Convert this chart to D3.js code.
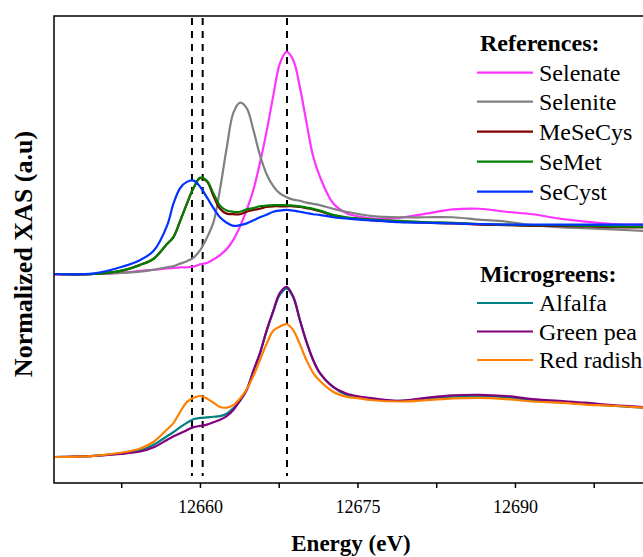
<!DOCTYPE html>
<html>
<head>
<meta charset="utf-8">
<script src="https://cdn.jsdelivr.net/npm/d3@7"></script>
<style>
  body { margin: 0; background: #fff; }
  svg text { font-family: "Liberation Serif", "Times New Roman", serif; fill: #000; }
</style>
</head>
<body>
<div id="chart"></div>
<script>
// energy grid (eV), shared by every spectrum
var energy = [12646.10, 12649.90, 12652.43, 12654.32, 12655.59, 12656.86, 12657.49, 12658.12, 12658.75, 12659.39,
  12660.02, 12660.65, 12661.29, 12661.91, 12662.55, 12663.18, 12663.82, 12664.45, 12665.09, 12665.71,
  12666.34, 12666.98, 12667.61, 12668.25, 12668.88, 12669.51, 12670.14, 12670.78, 12671.41, 12672.68,
  12673.94, 12675.21, 12676.48, 12679.00, 12681.53, 12684.07, 12686.60, 12689.13, 12691.67, 12694.19,
  12696.72, 12699.26, 12703.06];

// reference compounds (normalized, stacked with an offset)
var selenate = [-0.01, 0.00, 0.02, 0.05, 0.07, 0.09, 0.10, 0.11, 0.11, 0.12,
  0.16, 0.18, 0.24, 0.31, 0.41, 0.56, 0.78, 1.05, 1.38, 1.82,
  2.33, 2.92, 3.45, 3.64, 3.51, 3.07, 2.49, 1.93, 1.60, 1.16,
  1.00, 0.94, 0.91, 0.92, 0.99, 1.06, 1.07, 1.02, 0.98, 0.91,
  0.86, 0.82, 0.81];
var selenite = [0.00, 0.00, 0.02, 0.04, 0.07, 0.11, 0.13, 0.17, 0.21, 0.27,
  0.39, 0.59, 0.85, 1.39, 2.07, 2.64, 2.81, 2.72, 2.36, 1.95,
  1.64, 1.44, 1.32, 1.26, 1.22, 1.20, 1.17, 1.15, 1.13, 1.07,
  1.02, 0.98, 0.95, 0.93, 0.93, 0.93, 0.89, 0.86, 0.80, 0.77,
  0.75, 0.73, 0.70];
var meSeCys = [0.00, 0.00, 0.05, 0.15, 0.25, 0.49, 0.61, 0.87, 1.15, 1.41,
  1.57, 1.52, 1.28, 1.07, 0.99, 0.98, 0.98, 1.02, 1.05, 1.07,
  1.10, 1.11, 1.11, 1.11, 1.11, 1.10, 1.08, 1.06, 1.03, 0.96,
  0.92, 0.90, 0.88, 0.86, 0.84, 0.83, 0.81, 0.80, 0.79, 0.79,
  0.78, 0.77, 0.76];
var seMet = [0.00, 0.00, 0.05, 0.15, 0.25, 0.49, 0.61, 0.87, 1.15, 1.41,
  1.58, 1.53, 1.32, 1.12, 1.04, 1.02, 1.02, 1.06, 1.08, 1.11,
  1.12, 1.13, 1.13, 1.13, 1.12, 1.11, 1.09, 1.07, 1.04, 0.97,
  0.93, 0.91, 0.89, 0.87, 0.85, 0.84, 0.82, 0.81, 0.80, 0.80,
  0.79, 0.78, 0.77];
var seCyst = [0.00, 0.01, 0.11, 0.23, 0.38, 0.79, 1.16, 1.41, 1.51, 1.53,
  1.43, 1.26, 1.08, 0.93, 0.84, 0.79, 0.80, 0.83, 0.88, 0.93,
  0.97, 1.02, 1.04, 1.05, 1.04, 1.02, 1.00, 0.98, 0.97, 0.93,
  0.91, 0.89, 0.88, 0.85, 0.84, 0.83, 0.82, 0.81, 0.81, 0.81,
  0.81, 0.81, 0.81];

// microgreen samples
var alfalfa = [0.00, 0.02, 0.06, 0.11, 0.20, 0.34, 0.41, 0.49, 0.56, 0.62,
  0.64, 0.65, 0.66, 0.67, 0.71, 0.80, 0.92, 1.10, 1.41, 1.70,
  2.06, 2.39, 2.66, 2.76, 2.62, 2.25, 1.89, 1.59, 1.38, 1.15,
  1.02, 0.98, 0.95, 0.92, 0.96, 0.99, 1.00, 0.98, 0.93, 0.90,
  0.87, 0.84, 0.80];
var greenPea = [0.00, 0.02, 0.05, 0.09, 0.16, 0.28, 0.34, 0.39, 0.44, 0.49,
  0.51, 0.53, 0.57, 0.61, 0.67, 0.77, 0.93, 1.10, 1.41, 1.70,
  2.07, 2.39, 2.69, 2.79, 2.63, 2.25, 1.89, 1.59, 1.38, 1.15,
  1.04, 0.99, 0.96, 0.92, 0.97, 1.01, 1.02, 1.00, 0.95, 0.92,
  0.89, 0.85, 0.81];
var redRadish = [0.00, 0.02, 0.07, 0.14, 0.25, 0.45, 0.56, 0.74, 0.90, 0.97,
  1.00, 0.96, 0.89, 0.82, 0.81, 0.85, 0.96, 1.11, 1.33, 1.59,
  1.85, 2.07, 2.14, 2.18, 2.08, 1.85, 1.59, 1.38, 1.25, 1.07,
  0.99, 0.96, 0.93, 0.91, 0.93, 0.96, 0.97, 0.95, 0.91, 0.89,
  0.86, 0.84, 0.80];

var refOffset = 3;

var refNames = ["Selenate", "Selenite", "MeSeCys", "SeMet", "SeCyst"];
var refColors = ["#ff33ff", "#808080", "#800000", "#008000", "#0033ff"];
var refValues = [selenate, selenite, meSeCys, seMet, seCyst];

var sampleNames = ["Alfalfa", "Green pea", "Red radish"];
var sampleColors = ["#008080", "#800080", "#ff8000"];
var sampleValues = [alfalfa, greenPea, redRadish];

// marker energies (dashed lines)
var markers = [12659.24, 12660.26, 12668.29];
var majorTicks = [12660, 12675, 12690];
var minorTicks = [12652.5, 12667.5, 12682.5, 12697.5];

/*
 * setup
 */
var w = 643, h = 557;
var mLeft = 54, mRight = 643, mTop = 16, mBottom = 483;

var svg = d3.select("#chart").append("svg")
  .attr("width", w)
  .attr("height", h);

var xScale = d3.scaleLinear().domain([12646.1, 12704]).range([mLeft, 661.95]);
var yScale = d3.scaleLinear().domain([-26 / 61, 441 / 61]).range([mBottom, mTop]);

svg.append("clipPath").attr("id", "plotclip")
  .append("rect")
  .attr("x", mLeft).attr("y", mTop)
  .attr("width", mRight - mLeft).attr("height", mBottom - mTop);

var plot = svg.append("g").attr("clip-path", "url(#plotclip)");

// dashed marker lines
plot.selectAll("line.marker")
  .data(markers)
  .enter()
  .append("line")
  .attr("class", "marker")
  .attr("x1", function(d) { return xScale(d); })
  .attr("x2", function(d) { return xScale(d); })
  .attr("y1", mTop + 2)
  .attr("y2", mBottom - 7)
  .attr("stroke", "#000")
  .attr("stroke-width", 2)
  .attr("stroke-dasharray", "7,6");

function drawSeries(values, color, offset) {
  var line = d3.line()
    .curve(d3.curveCatmullRom.alpha(0.5))
    .x(function(d, i) { return xScale(energy[i]); })
    .y(function(d) { return yScale(d + offset); });
  plot.append("path")
    .datum(values)
    .attr("fill", "none")
    .attr("stroke", color)
    .attr("stroke-width", 2.2)
    .attr("stroke-linejoin", "round")
    .attr("d", line);
}

refValues.forEach(function(v, i) { drawSeries(v, refColors[i], refOffset); });
sampleValues.forEach(function(v, i) { drawSeries(v, sampleColors[i], 0); });

/*
 * axes
 */
var xAxis = d3.axisBottom(xScale)
  .tickValues(majorTicks)
  .tickSize(5)
  .tickPadding(12)
  .tickFormat(d3.format("d"));

var gx = svg.append("g")
  .attr("transform", "translate(0," + mBottom + ")")
  .call(xAxis);
gx.select(".domain").remove();
gx.selectAll("line").attr("stroke", "#000").attr("stroke-width", 1.5);
gx.selectAll("text").style("font-size", "18px");

var gMinor = svg.append("g")
  .attr("transform", "translate(0," + mBottom + ")")
  .call(d3.axisBottom(xScale).tickValues(minorTicks).tickSize(5).tickFormat(""));
gMinor.select(".domain").remove();
gMinor.selectAll("line").attr("stroke", "#000").attr("stroke-width", 1.5);

// frame: left, bottom, top
svg.append("path")
  .attr("d", "M" + mRight + "," + mTop + "H" + mLeft + "V" + mBottom + "H" + mRight)
  .attr("fill", "none")
  .attr("stroke", "#000")
  .attr("stroke-width", 1.5);

// axis titles
svg.append("text")
  .attr("x", 351)
  .attr("y", 551)
  .attr("text-anchor", "middle")
  .style("font-size", "23px")
  .style("font-weight", "bold")
  .text("Energy (eV)");

svg.append("text")
  .attr("transform", "translate(32,254) rotate(-90)")
  .attr("text-anchor", "middle")
  .style("font-size", "26px")
  .style("font-weight", "bold")
  .text("Normalized XAS (a.u)");

/*
 * legends
 */
function legend(title, titleY, names, colors, rowY) {
  svg.append("text")
    .attr("x", 480)
    .attr("y", titleY)
    .style("font-size", "24px")
    .style("font-weight", "bold")
    .text(title);
  var rows = svg.selectAll(null)
    .data(names)
    .enter()
    .append("g")
    .attr("transform", function(d, i) { return "translate(0," + rowY[i] + ")"; });
  rows.append("line")
    .attr("x1", 477).attr("x2", 533)
    .attr("stroke", function(d, i) { return colors[i]; })
    .attr("stroke-width", 2.2);
  rows.append("text")
    .attr("x", 539)
    .attr("y", 8)
    .style("font-size", "24px")
    .text(function(d) { return d; });
}

legend("References:", 51, refNames, refColors, [72.7, 101.7, 131.7, 161.7, 191.7]);
legend("Microgreens:", 282, sampleNames, sampleColors, [303, 331.5, 360]);
</script>
</body>
</html>
